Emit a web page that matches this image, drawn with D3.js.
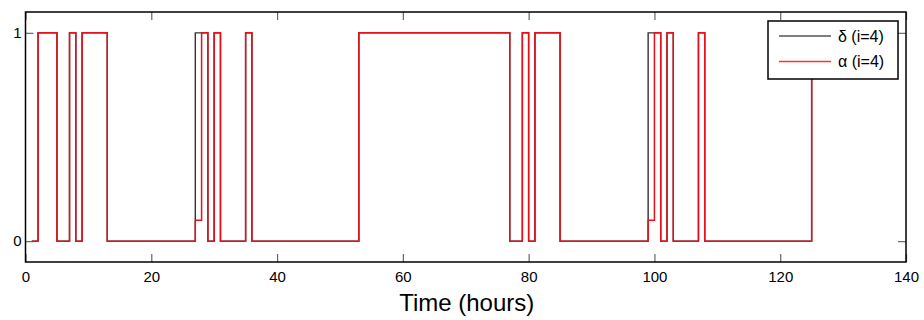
<!DOCTYPE html>
<html lang="en">
  <head>
    <meta charset="UTF-8" />
    <title>delta alpha</title>
    <style>
      body { margin: 0; background: #fff; }
      text { font-family: "Liberation Sans", Arial, sans-serif; }
    </style>
  </head>
  <body>
    <div id="chart"></div>
    <script src="https://d3js.org/d3.v7.min.js"></script>
    <script>
      // step data (value holds until the next time)
      var deltaTimes = [1, 2, 5, 7, 8, 9, 13, 27, 29, 30, 31, 35, 36, 53, 77, 79, 80, 81, 85, 99, 101, 102, 103, 107, 108, 125];
      var deltaValues = [0, 1, 0, 1, 0, 1, 0, 1, 0, 1, 0, 1, 0, 1, 0, 1, 0, 1, 0, 1, 0, 1, 0, 1, 0, 1];
      var alphaTimes = [1, 2, 5, 7, 8, 9, 13, 27, 28, 29, 30, 31, 35, 36, 53, 77, 79, 80, 81, 85, 99, 100, 101, 102, 103, 107, 108, 125];
      var alphaValues = [0, 1, 0, 1, 0, 1, 0, 0.1, 1, 0, 1, 0, 1, 0, 1, 0, 1, 0, 1, 0, 0.1, 1, 0, 1, 0, 1, 0, 1];
      var xTicks = [0, 20, 40, 60, 80, 100, 120, 140];
      var yTicks = [0, 1];
      var legendLabels = ["\u03b4 (i=4)", "\u03b1 (i=4)"];

      var margin = { top: 12, right: 18, bottom: 58, left: 25.5 },
        width = 924 - margin.left - margin.right,
        height = 320 - margin.top - margin.bottom;

      var svg = d3
        .select("#chart")
        .append("svg")
        .attr("width", 924)
        .attr("height", 320)
        .append("g")
        .attr("transform", "translate(" + margin.left + "," + margin.top + ")");

      var x = d3.scaleLinear().domain([0, 140]).range([0, width]);
      var y = d3.scaleLinear().domain([-0.1, 1.1]).range([height, 0]);

      // ticks (inside, on all four sides)
      var tickLen = 8;
      svg.append("g").attr("transform", "translate(0," + height + ")")
        .call(d3.axisBottom(x).tickValues(xTicks).tickSize(-tickLen).tickSizeOuter(0).tickPadding(9))
        .call(function (g) {
          g.select(".domain").remove();
          g.selectAll("line").attr("stroke", "#666").attr("stroke-width", 1.2);
          g.selectAll("text").attr("font-size", 15).attr("fill", "#000");
        });
      svg.append("g")
        .call(d3.axisTop(x).tickValues(xTicks).tickSize(-tickLen).tickFormat(""))
        .call(function (g) {
          g.select(".domain").remove();
          g.selectAll("line").attr("stroke", "#666").attr("stroke-width", 1.2);
        });
      svg.append("g")
        .call(d3.axisLeft(y).tickValues(yTicks).tickSize(-tickLen).tickPadding(12).tickFormat(d3.format("d")))
        .call(function (g) {
          g.select(".domain").remove();
          g.selectAll("line").attr("stroke", "#666").attr("stroke-width", 1.2);
          g.selectAll("text").attr("font-size", 15).attr("fill", "#000").attr("dx", 8);
        });
      svg.append("g").attr("transform", "translate(" + width + ",0)")
        .call(d3.axisRight(y).tickValues(yTicks).tickSize(-tickLen).tickFormat(""))
        .call(function (g) {
          g.select(".domain").remove();
          g.selectAll("line").attr("stroke", "#666").attr("stroke-width", 1.2);
        });

      var line = d3.line()
        .x(function (d) { return x(d[0]); })
        .y(function (d) { return y(d[1]); })
        .curve(d3.curveStepAfter);

      var deltaData = deltaTimes.map(function (t, i) { return [t, deltaValues[i]]; });
      var alphaData = alphaTimes.map(function (t, i) { return [t, alphaValues[i]]; });

      svg.append("path").datum(deltaData)
        .attr("d", line).attr("fill", "none")
        .attr("stroke", "#333").attr("stroke-width", 1.4);
      svg.append("path").datum(alphaData)
        .attr("d", line).attr("fill", "none")
        .attr("stroke", "#e8101a").attr("stroke-width", 1.5);

      // box
      svg.append("rect")
        .attr("width", width).attr("height", height)
        .attr("fill", "none").attr("stroke", "#000").attr("stroke-width", 1.5);

      // x label
      svg.append("text")
        .attr("x", width / 2 + 1).attr("y", height + 49)
        .attr("text-anchor", "middle").attr("font-size", 24)
        .text("Time (hours)");

      // legend
      var lg = svg.append("g").attr("transform", "translate(" + (768 - margin.left) + "," + (21 - margin.top) + ")");
      lg.append("rect").attr("width", 130).attr("height", 58)
        .attr("fill", "#fff").attr("stroke", "#000").attr("stroke-width", 1.5);
      var legendColors = ["#555", "#ff3030"];
      legendLabels.forEach(function (lab, i) {
        var yy = 15 + i * 25.5;
        lg.append("line").attr("x1", 11).attr("x2", 63).attr("y1", yy).attr("y2", yy)
          .attr("stroke", legendColors[i]).attr("stroke-width", 1.4);
        lg.append("text").attr("x", 70).attr("y", yy + 5.5)
          .attr("font-size", 16).text(lab);
      });
    </script>
  </body>
</html>
